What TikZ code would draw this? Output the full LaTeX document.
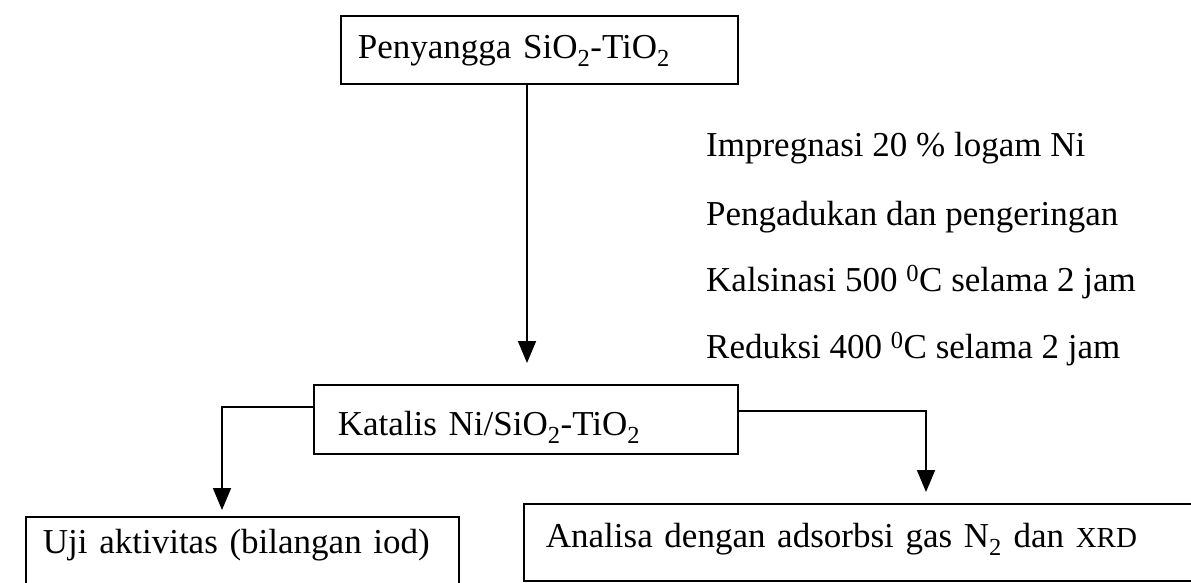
\documentclass[tikz,border=0pt]{standalone}
\usepackage{fontspec}
\setmainfont{Liberation Serif}
\usetikzlibrary{arrows.meta}
\begin{document}
\begin{tikzpicture}[x=1pt,y=-1pt,
  every node/.style={font=\fontsize{35}{42}\selectfont},
  boxnode/.style={draw,line width=1.8pt,rectangle,inner ysep=0pt,align=left},
  arr/.style={line width=1.8pt,-{Triangle[width=18pt,length=22pt]}},
  steptext/.style={anchor=base west,inner sep=0pt}]
\useasboundingbox (0,0) rectangle (1191,583);
\clip (0,0) rectangle (1191,583);
\fill[white] (0,0) rectangle (1191,583);
% boxes
\node[boxnode,inner xsep=17pt,text width=363pt,text height=43pt,text depth=25pt,anchor=north west] (b1) at (340,15)
  {Penyangga SiO\textsubscript{2}-TiO\textsubscript{2}};
\node[boxnode,inner xsep=24pt,text width=376pt,text height=51pt,text depth=18pt,anchor=north west] (b2) at (313,384)
  {Katalis Ni/SiO\textsubscript{2}-TiO\textsubscript{2}};
\node[boxnode,inner xsep=17pt,text width=399pt,text height=37pt,text depth=37pt,anchor=north west] (b3) at (25,516)
  {Uji aktivitas (bilangan iod)};
\node[boxnode,inner xsep=22pt,text width=633pt,text height=44pt,text depth=33pt,anchor=north west] (b4) at (523,503)
  {Analisa dengan adsorbsi gas N\textsubscript{2} dan {\fontsize{29}{30}\selectfont XRD}};
% step texts
\node[steptext] (s1) at (706,157) {Impregnasi 20 \% logam Ni};
\node[steptext] (s2) at (706,225) {Pengadukan dan pengeringan};
\node[steptext] (s3) at (706,291) {Kalsinasi 500 \textsuperscript{0}C selama 2 jam};
\node[steptext] (s4) at (706,358) {Reduksi 400 \textsuperscript{0}C selama 2 jam};
% connectors
\coordinate (t1) at (527,363);
\coordinate (t3) at (222,510);
\coordinate (t4) at (926,492);
\draw[arr] (b1.south -| t1) -- (t1);
\draw[arr] ([yshift=12.5pt]b2.west) -| (t3);
\draw[arr] ([yshift=8.5pt]b2.east) -| (t4);
\end{tikzpicture}
\end{document}
